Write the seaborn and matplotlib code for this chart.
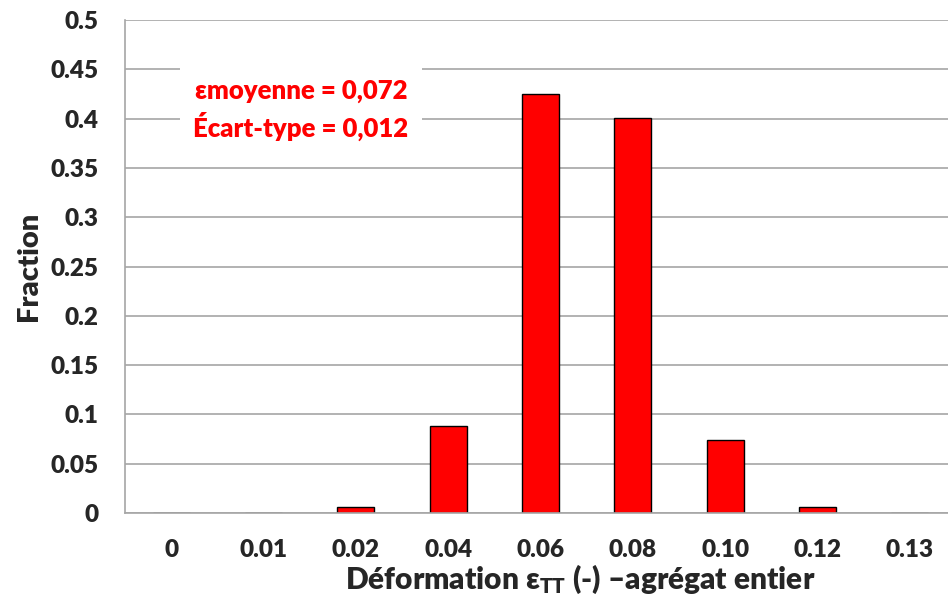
import pandas as pd
import seaborn as sns
import matplotlib.pyplot as plt

# Histogram of the deformation
categories = ['0', '0.01', '0.02', '0.04', '0.06', '0.08', '0.10', '0.12', '0.13']
fractions = [0.0, 0.0, 0.006, 0.088, 0.425, 0.401, 0.074, 0.006, 0.0]
y_ticks = [0, 0.05, 0.1, 0.15, 0.2, 0.25, 0.3, 0.35, 0.4, 0.45, 0.5]
y_labels = ['0', '0.05', '0.1', '0.15', '0.2', '0.25', '0.3', '0.35', '0.4', '0.45', '0.5']

df = pd.DataFrame({'Deformation': categories, 'Fraction': fractions})

sns.set_style('white')
plt.rcParams['font.family'] = ['Lato', 'DejaVu Sans']
plt.rcParams['mathtext.fontset'] = 'custom'
plt.rcParams['mathtext.rm'] = 'Lato:heavy'
plt.rcParams['mathtext.bf'] = 'Lato:heavy'
plt.rcParams['mathtext.it'] = 'Lato:heavy'

fig = plt.figure(figsize=(9.48, 5.99), dpi=100)
# plot area runs a little past the right edge of the picture
ax = fig.add_axes([125 / 948, 1 - 513 / 599, 831 / 948, 493 / 599])

sns.barplot(data=df, x='Deformation', y='Fraction', color='#ff0000',
            width=0.40, edgecolor='#000000', linewidth=1.0, saturation=1, ax=ax)

ax.set_ylim(0, 0.5)
ax.set_xlim(-0.5, len(categories) - 0.5)
ax.set_yticks(y_ticks)
ax.set_yticklabels(y_labels, fontsize=17.5, fontweight='heavy')
ax.set_xticks(range(len(categories)))
ax.set_xticklabels(categories, fontsize=17.5, fontweight='heavy')
ax.tick_params(axis='x', length=0, pad=19)
ax.tick_params(axis='y', length=0, pad=19)
ax.yaxis.grid(True, color='#a6a6a6', linewidth=1.2)
ax.set_axisbelow(True)

for side in ['top', 'right']:
    ax.spines[side].set_visible(False)
for side in ['left', 'bottom']:
    ax.spines[side].set_color('#a6a6a6')
    ax.spines[side].set_linewidth(1.2)

ax.set_ylabel('Fraction', fontsize=21, fontweight='heavy', labelpad=6)
ax.set_xlabel('Déformation ε$_{\\mathbf{TT}}$ (-) –agrégat entier',
              fontsize=21.5, fontweight='heavy', labelpad=0)
ax.xaxis.set_label_coords(0.548, -0.101)

ax.text(1.406, 0.409, 'εmoyenne = 0,072\nÉcart-type = 0,012',
        color='#ff0000', fontsize=18.5, fontweight='heavy', linespacing=1.35,
        ha='center', va='center',
        bbox=dict(facecolor='white', edgecolor='none', pad=10))

fig.savefig('out.png', dpi=100)
